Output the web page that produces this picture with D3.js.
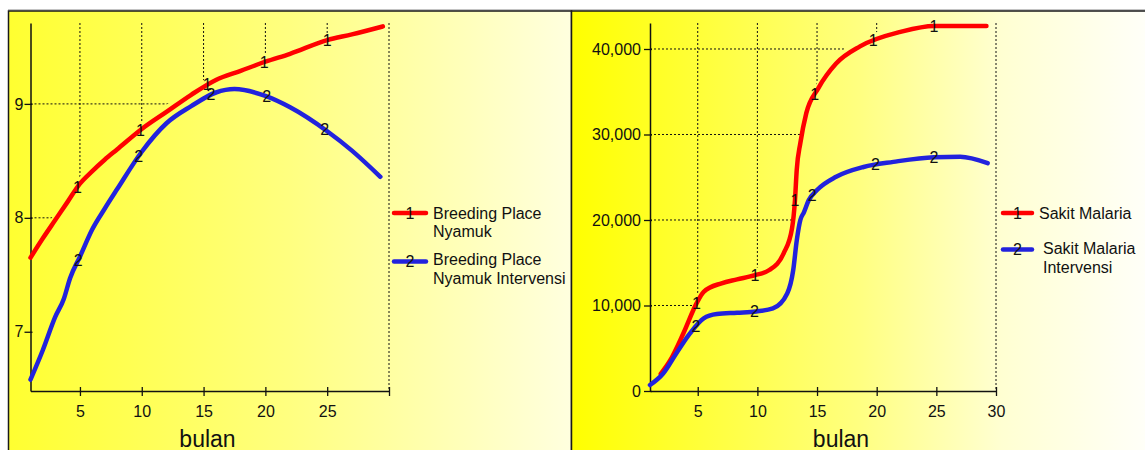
<!DOCTYPE html>
<html><head><meta charset="utf-8">
<script src="https://cdn.jsdelivr.net/npm/d3@7"></script>
<style>
body{margin:0;background:#fff}
svg{display:block}
text{font-family:Arial,"Liberation Sans",sans-serif;fill:#111}
</style>
</head><body>
<svg id="c" width="1145" height="450"></svg>
<script>
// ---------- DATA ----------
// Left chart: Breeding Place (index)
const leftXTicks = [5, 10, 15, 20, 25, 30];
const leftXTickLabels = ["5", "10", "15", "20", "25", ""];
const leftYTicks = [7, 8, 9];
const leftGridY = [7, 8, 9];
const leftGridX = [5, 10, 15, 20, 25];

const bpMonths = [1, 2, 3, 4, 5, 6, 7, 8, 10, 12, 14, 16, 18, 20, 22, 25, 27, 29.5];
const bpValues = [7.65, 7.82, 7.98, 8.14, 8.30, 8.41, 8.51, 8.60, 8.78, 8.93, 9.08, 9.21, 9.29, 9.37, 9.44, 9.56, 9.61, 9.68];
const bpLabelMonths = [4.8, 9.9, 15.3, 19.9, 25];

const bpiMonths = [1, 2, 3, 3.7, 4.2, 5, 6, 7, 8, 10, 12, 14, 16, 17.5, 20, 22, 25, 27, 29.3];
const bpiValues = [6.58, 6.84, 7.13, 7.29, 7.47, 7.66, 7.90, 8.08, 8.25, 8.58, 8.83, 8.98, 9.10, 9.13, 9.07, 8.97, 8.76, 8.59, 8.36];
const bpiLabelMonths = [4.85, 9.75, 15.6, 20.1, 24.8];

const leftLegend = [["Breeding Place", "Nyamuk"], ["Breeding Place", "Nyamuk Intervensi"]];

// Right chart: Sakit Malaria (persons)
const rightXTicks = [5, 10, 15, 20, 25, 30];
const rightXTickLabels = ["5", "10", "15", "20", "25", "30"];
const rightYTicks = [0, 10000, 20000, 30000, 40000];
const rightGridY = [10000, 20000, 30000, 40000];
const rightGridX = [5, 10, 15, 20, 25];

const smMonths = [1.9, 2.7, 3.8, 4.9, 5.5, 7, 8.3, 9.8, 11, 12.2, 12.9, 13.15, 13.3, 13.6, 14.1, 15.1, 16.6, 18.6, 22, 24.8, 29.2];
const smValues = [2000, 3600, 6750, 10250, 11600, 12600, 13050, 13550, 14150, 16100, 19000, 22300, 25900, 29000, 32500, 35400, 38300, 40300, 42000, 42700, 42700];
const smLabelMonths = [4.9, 9.8, 13.15, 14.8, 19.7, 24.8];

const smiMonths = [1, 2.1, 3.2, 4.35, 5.5, 6.6, 8.3, 9.9, 11.3, 12.5, 13, 13.3, 13.6, 13.9, 14.3, 15, 16.6, 18.9, 21.4, 24.8, 27, 29.3];
const smiValues = [700, 2050, 4400, 6750, 8500, 9000, 9150, 9300, 9650, 11400, 14100, 17600, 20000, 20900, 22300, 23500, 25050, 26200, 26800, 27350, 27400, 26650];
const smiLabelMonths = [4.85, 9.75, 14.6, 19.9, 24.8];

const rightLegend = [["Sakit Malaria"], ["Sakit Malaria", "Intervensi"]];
const xTitle = "bulan";

// ---------- DRAWING ----------
const RED = "#ff0000", BLUE = "#2222dd";
const svg = d3.select("#c");
const defs = svg.append("defs");

function gradient(id, x1, x2, stops) {
  const g = defs.append("linearGradient").attr("id", id)
    .attr("gradientUnits", "userSpaceOnUse")
    .attr("x1", x1).attr("x2", x2).attr("y1", 0).attr("y2", 0);
  stops.forEach(s => g.append("stop").attr("offset", s[0]).attr("stop-color", s[1]));
}
gradient("gL", 8, 572, [[0, "#ffff30"], [0.5, "#ffff80"], [1, "#ffffdf"]]);
gradient("gR", 572, 1145, [[0, "#ffff00"], [0.5, "#ffff80"], [0.75, "#ffffd2"], [1, "#fffff8"]]);

svg.append("line").attr("x1", 8).attr("x2", 1145).attr("y1", 9.8).attr("y2", 9.8)
  .attr("stroke", "#aaa").attr("stroke-width", 1);
svg.append("rect").attr("x", 8.5).attr("y", 11).attr("width", 563).attr("height", 460)
  .attr("fill", "url(#gL)").attr("stroke", "#1a1a1a").attr("stroke-width", 1.5);
svg.append("rect").attr("x", 571.5).attr("y", 11).attr("width", 590).attr("height", 460)
  .attr("fill", "url(#gR)").attr("stroke", "#1a1a1a").attr("stroke-width", 1.5);

function pointAtX(node, px) {
  const L = node.getTotalLength();
  let lo = 0, hi = L;
  for (let i = 0; i < 40; i++) {
    const mid = (lo + hi) / 2;
    if (node.getPointAtLength(mid).x < px) lo = mid; else hi = mid;
  }
  return node.getPointAtLength((lo + hi) / 2);
}

function drawChart(cfg) {
  const g = svg.append("g");
  const x = cfg.x, y = cfg.y;
  const top = y.range()[1], bottom = y.range()[0];
  const left = x.range()[0], right = x.range()[1];
  const curve = d3.curveMonotoneX;
  const toPts = (m, v) => m.map((t, i) => [t, v[i]]);

  // clip: region above the first (red) curve
  const clipId = cfg.id + "clip";
  const cp = defs.append("clipPath").attr("id", clipId);
  const s0 = cfg.series[0];
  const pts0 = toPts(s0.months, s0.values);
  cp.append("path").attr("d", d3.area().curve(curve)
    .x(d => x(d[0])).y0(top - 10).y1(d => y(d[1]) - 7)(pts0));
  cp.append("rect").attr("x", left - 5).attr("y", top - 10)
    .attr("width", Math.max(0, x(s0.months[0]) - left + 5)).attr("height", bottom - top + 10);

  const grid = g.append("g").attr("clip-path", `url(#${clipId})`)
    .attr("stroke", "#111").attr("stroke-width", 1).attr("stroke-dasharray", "2,2");
  grid.selectAll("line.v").data(cfg.gridX).join("line").attr("class", "v")
    .attr("x1", d => x(d)).attr("x2", d => x(d)).attr("y1", top).attr("y2", bottom);
  grid.selectAll("line.h").data(cfg.gridY).join("line").attr("class", "h")
    .attr("x1", left).attr("x2", right).attr("y1", d => y(d)).attr("y2", d => y(d));
  // last vertical grid line (month 30), full height
  g.append("line").attr("x1", x(30)).attr("x2", x(30)).attr("y1", top).attr("y2", bottom)
    .attr("stroke", "#111").attr("stroke-dasharray", "2,2");

  // axes
  const ya = g.append("g").attr("transform", `translate(${left},0)`)
    .call(d3.axisLeft(y).tickValues(cfg.yTicks).tickFormat(cfg.yFormat)
      .tickSizeInner(6).tickSizeOuter(0).tickPadding(cfg.yPad));
  ya.selectAll(".tick line").attr("x1", 2).attr("stroke", "#111").attr("stroke-width", 1.3);
  ya.select(".domain").attr("stroke", "#111").attr("stroke-width", 1.5);
  ya.selectAll("text").attr("font-size", 16).attr("fill", "#111");

  const xa = g.append("g").attr("transform", `translate(0,${bottom})`)
    .call(d3.axisBottom(x).tickValues(cfg.xTicks).tickFormat((d, i) => cfg.xLabels[i])
      .tickSizeInner(5).tickSizeOuter(0).tickPadding(10));
  xa.selectAll(".tick line").attr("y1", -4).attr("stroke", "#111").attr("stroke-width", 1.3);
  xa.select(".domain").attr("stroke", "#111").attr("stroke-width", 1.5);
  xa.selectAll("text").attr("font-size", 16).attr("fill", "#111");

  // series
  const line = d3.line().curve(curve).x(d => x(d[0])).y(d => y(d[1]));
  const paths = cfg.series.map(s => g.append("path")
    .attr("d", line(toPts(s.months, s.values)))
    .attr("fill", "none").attr("stroke", s.color).attr("stroke-width", 4.5)
    .attr("stroke-linecap", "round").attr("stroke-linejoin", "round"));

  cfg.series.forEach((s, si) => {
    const node = paths[si].node();
    s.labelMonths.forEach(t => {
      const p = pointAtX(node, x(t));
      g.append("text").attr("x", p.x).attr("y", p.y).attr("dy", "0.36em")
        .attr("text-anchor", "middle").attr("font-size", 16).text(s.label);
    });
  });

  // legend
  cfg.series.forEach((s, si) => {
    const L = cfg.legend[si];
    g.append("line").attr("x1", L.x1).attr("x2", L.x2).attr("y1", L.y).attr("y2", L.y)
      .attr("stroke", s.color).attr("stroke-width", 4.5).attr("stroke-linecap", "round");
    g.append("text").attr("x", (L.x1 + L.x2) / 2).attr("y", L.y).attr("dy", "0.36em")
      .attr("text-anchor", "middle").attr("font-size", 16).text(s.label);
    L.lines.forEach((txt, k) => {
      g.append("text").attr("x", L.tx).attr("y", L.ty + k * 18.5)
        .attr("font-size", 16).text(txt);
    });
  });

  g.append("text").attr("x", cfg.titleX).attr("y", 447).attr("text-anchor", "middle")
    .attr("font-size", 23).text(xTitle);
}

const xL = d3.scaleLinear().domain([1, 30]).range([30.5, 389]);
const yL = d3.scaleLinear().domain([6.48, 9.71]).range([391, 23]);
drawChart({
  id: "L", x: xL, y: yL,
  yTicks: leftYTicks, yFormat: d3.format("d"), yPad: 1,
  xTicks: leftXTicks, xLabels: leftXTickLabels,
  gridX: leftGridX, gridY: leftGridY, titleX: 207.5,
  series: [
    {months: bpMonths, values: bpValues, color: RED, label: "1", labelMonths: bpLabelMonths},
    {months: bpiMonths, values: bpiValues, color: BLUE, label: "2", labelMonths: bpiLabelMonths}
  ],
  legend: [
    {x1: 394, x2: 426, y: 213, tx: 433, ty: 218.5, lines: leftLegend[0]},
    {x1: 394, x2: 426, y: 261.5, tx: 433, ty: 265, lines: leftLegend[1]}
  ]
});

const xR = d3.scaleLinear().domain([1, 30]).range([650, 996]);
const yR = d3.scaleLinear().domain([0, 43040]).range([391, 23]);
drawChart({
  id: "R", x: xR, y: yR,
  yTicks: rightYTicks, yFormat: d3.format(","), yPad: 3,
  xTicks: rightXTicks, xLabels: rightXTickLabels,
  gridX: rightGridX, gridY: rightGridY, titleX: 841,
  series: [
    {months: smMonths, values: smValues, color: RED, label: "1", labelMonths: smLabelMonths},
    {months: smiMonths, values: smiValues, color: BLUE, label: "2", labelMonths: smiLabelMonths}
  ],
  legend: [
    {x1: 1003, x2: 1032, y: 213, tx: 1039, ty: 218.5, lines: rightLegend[0]},
    {x1: 1003, x2: 1032, y: 249.5, tx: 1043, ty: 254, lines: rightLegend[1]}
  ]
});
</script>
</body></html>
